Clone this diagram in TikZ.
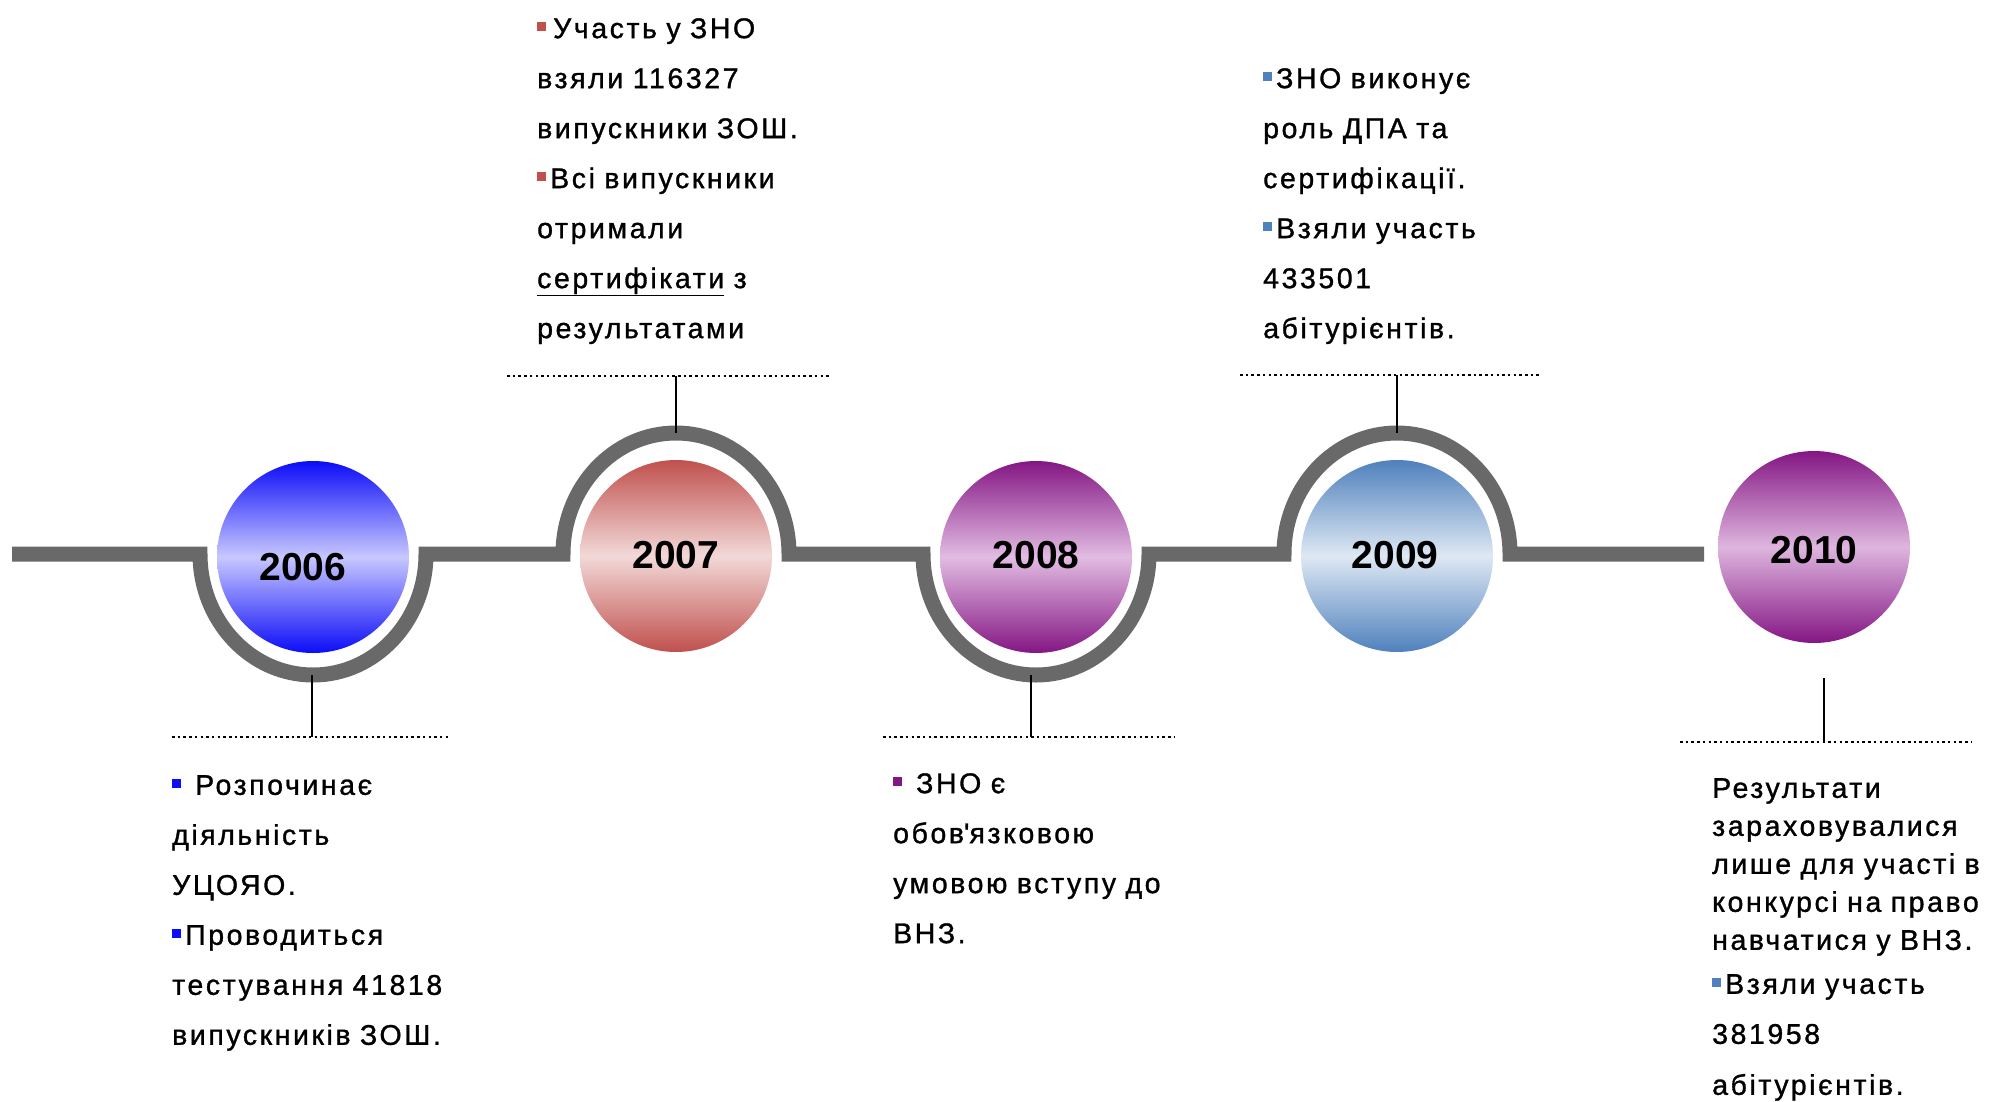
\documentclass[tikz,border=0pt]{standalone}
\usepackage{fontspec}
\setmainfont{Liberation Sans}
\newfontfamily\notefont{Liberation Sans}[LetterSpace=9,WordSpace=0.9,FakeBold=1.1]
\usepackage{tikz}

\definecolor{linegray}{RGB}{105,105,105}
\definecolor{d06}{RGB}{12,12,248}
\definecolor{m06}{RGB}{200,200,255}
\definecolor{d07}{RGB}{192,80,77}
\definecolor{m07}{RGB}{242,217,216}
\definecolor{d08}{RGB}{132,22,132}
\definecolor{m08}{RGB}{226,188,226}
\definecolor{d09}{RGB}{79,129,189}
\definecolor{m09}{RGB}{222,232,243}
\definecolor{d10}{RGB}{132,22,132}
\definecolor{m10}{RGB}{222,182,222}

\newcommand{\blt}[1]{{\color{#1}\rule[7pt]{9pt}{9pt}}}

\begin{document}
\begin{tikzpicture}[x=1pt,y=-1pt,
    ball/.style={circle, minimum size=192pt, inner sep=0pt},
    year/.style={font=\fontsize{39pt}{39pt}\selectfont\bfseries},
    tline/.style={line width=15pt, draw=linegray},
    stem/.style={line width=2.5pt},
    dotline/.style={line width=2.5pt, dash pattern=on 2.5pt off 3.2pt},
    note/.style={anchor=north west, inner sep=0pt, align=left, font=\notefont\fontsize{28.5pt}{50pt}\selectfont}]
	\useasboundingbox (0,0) rectangle (1989,1101);

	\draw[tline] (12,554) -- (200,554)
		arc[start angle=180, end angle=360, x radius=113pt, y radius=121pt] -- (563,554)
		arc[start angle=180, end angle=0, x radius=113pt, y radius=121pt] -- (923,554)
		arc[start angle=180, end angle=360, x radius=113pt, y radius=121pt] -- (1284,554)
		arc[start angle=180, end angle=0, x radius=113pt, y radius=121pt] -- (1704,554);

	\node[ball, top color=d06, bottom color=d06, middle color=m06] (c2006) at (313,557) {};
	\node[ball, top color=d07, bottom color=d07, middle color=m07] (c2007) at (676,556) {};
	\node[ball, top color=d08, bottom color=d08, middle color=m08] (c2008) at (1036,557) {};
	\node[ball, top color=d09, bottom color=d09, middle color=m09] (c2009) at (1397,556) {};
	\node[ball, top color=d10, bottom color=d10, middle color=m10] (c2010) at (1814,547) {};

	\node[year] (y2006) at (303,567) {2006};
	\node[year] (y2007) at (676,555) {2007};
	\node[year] (y2008) at (1036,555) {2008};
	\node[year] (y2009) at (1395,555) {2009};
	\node[year] (y2010) at (1814,550) {2010};

	\coordinate (a2006) at (312,675);
	\coordinate (b2006) at (312,737);
	\coordinate (a2007) at (676,433);
	\coordinate (b2007) at (676,376);
	\coordinate (a2008) at (1031,675);
	\coordinate (b2008) at (1031,737);
	\coordinate (a2009) at (1397,433);
	\coordinate (b2009) at (1397,375);
	\coordinate (a2010) at (1824,678);
	\coordinate (b2010) at (1824,742);

	\draw[stem] (a2006) -- (b2006);
	\draw[stem] (a2007) -- (b2007);
	\draw[stem] (a2008) -- (b2008);
	\draw[stem] (a2009) -- (b2009);
	\draw[stem] (a2010) -- (b2010);

	\draw[dotline] (172,737) -- (450,737);
	\draw[dotline] (507,376) -- (830,376);
	\draw[dotline] (883,737) -- (1175,737);
	\draw[dotline] (1240,375) -- (1540,375);
	\draw[dotline] (1680,742) -- (1972,742);

	\node[note] (n2006) at (172,775) {\blt{d06}\hspace{14pt}Розпочинає\\діяльність\\УЦОЯО.\\\blt{d06}\hspace{4pt}Проводиться\\тестування 41818\\випускників ЗОШ.};
	\node[note] (n2007) at (537,18) {\blt{d07}\hspace{7pt}Участь у ЗНО\\взяли 116327\\випускники ЗОШ.\\\blt{d07}\hspace{4pt}Всі випускники\\отримали\\\underline{сертифікати} з\\результатами};
	\node[note] (n2008) at (893,773) {\blt{d08}\hspace{14pt}ЗНО є\\обов\textquotesingle язковою\\умовою вступу до\\ВНЗ.};
	\node[note] (n2009) at (1263,68) {\blt{d09}\hspace{4pt}ЗНО виконує\\роль ДПА та\\сертифікації.\\\blt{d09}\hspace{4pt}Взяли участь\\433501\\абітурієнтів.};
	\node[note, font=\notefont\fontsize{28.5pt}{38pt}\selectfont] (n2010) at (1712,778) {Результати\\зараховувалися\\лише для участі в\\конкурсі на право\\навчатися у ВНЗ.\\[6pt]\blt{d09}\hspace{4pt}Взяли участь\\[12pt]381958\\[13pt]абітурієнтів.};
\end{tikzpicture}
\end{document}
